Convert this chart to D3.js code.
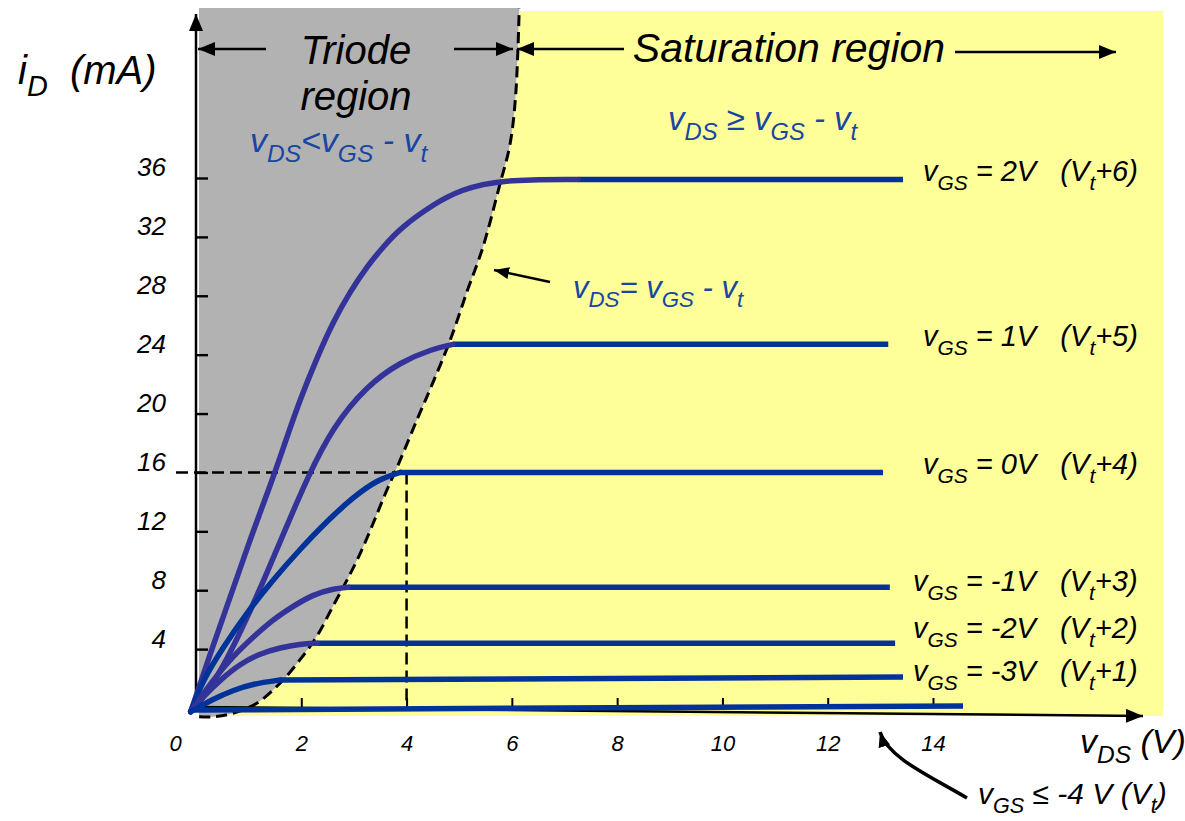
<!DOCTYPE html>
<html><head><meta charset="utf-8">
<script src="https://cdn.jsdelivr.net/npm/d3@7"></script>
<style>
body{margin:0;background:#fff;}
svg{display:block;}
text{font-family:"Liberation Sans",Arial,Helvetica,sans-serif;font-style:italic;}
</style>
</head><body>
<svg id="c" width="1185" height="821"></svg>
<script>
// ---------- data ----------
const yTicks = [4, 8, 12, 16, 20, 24, 28, 32, 36];
const xTicks = [0, 2, 4, 6, 8, 10, 12, 14];
const vgsLabels = ["2V", "1V", "0V", "-1V", "-2V", "-3V"];
const vtLabels = ["+6", "+5", "+4", "+3", "+2", "+1"];
// triode-region curves (vDS [V], iD [mA])
const curve2V = [[-0.1,-0.25],[0.02,1.0],[0.27,3.7],[0.59,6.9],[0.97,10.9],[1.44,15.4],[1.68,17.9],[1.98,21.0],[2.30,23.8],[2.60,26.2],[2.93,28.3],[3.25,30.0],[3.55,31.3],[3.88,32.6],[4.50,34.2],[5.02,35.2],[5.78,35.9],[7.26,35.9]];
const curve1V = [[-0.1,-0.25],[0.21,1.0],[0.59,3.3],[0.97,6.1],[1.35,9.2],[1.73,12.4],[2.11,15.6],[2.60,19.1],[3.25,21.9],[3.88,23.5],[4.50,24.4],[4.88,24.7]];
const curve0V = [[-0.1,-0.25],[0.13,1.9],[0.51,4.1],[0.97,6.5],[1.46,8.7],[1.98,10.8],[2.49,12.7],[2.98,14.3],[3.44,15.5],[3.88,16.0]];
const curveM1 = [[-0.1,-0.25],[0.32,1.9],[0.70,3.5],[1.08,4.8],[1.46,6.0],[1.84,6.9],[2.22,7.7],[2.60,8.1],[2.89,8.2]];
const curveM2 = [[-0.1,-0.25],[0.13,0.75],[0.46,1.9],[0.84,3.0],[1.22,3.7],[1.60,4.1],[1.98,4.35],[2.30,4.4]];
const curveM3 = [[-0.1,-0.25],[0.32,0.6],[0.70,1.2],[1.08,1.65],[1.60,1.9]];
const curveM4 = [[-0.1,-0.14],[14.57,0.14]];
const triodeCurves = [curve2V, curve1V, curve0V, curveM1, curveM2, curveM3];
const triodeIsPurple = [true, true, false, true, true, false];
// saturation segments: end of line (vDS) and level at end (iD)
const satEndX = [13.43, 13.15, 13.05, 13.18, 13.28, 13.43];
const satEndLevel = [35.9, 24.7, 16.0, 8.2, 4.4, 2.1];
// boundary vDS = vGS - vt (dashed)
const boundary = [[0.06,-0.6],[0.32,-0.6],[0.70,-0.36],[1.16,0.34],[1.60,1.7],[1.98,3.3],[2.30,4.9],[2.60,6.9],[2.87,8.7],[3.12,10.5],[3.36,12.5],[3.59,14.5],[3.85,16.6],[4.20,19.6],[4.50,22.1],[4.83,25.0],[5.15,28.3],[5.45,31.3],[5.76,35.4],[5.96,38.2],[6.07,41.5],[6.14,47.5]];
const guideLevel = 16, guideV = 4;

// ---------- scales ----------
const svg = d3.select("#c");
const x = d3.scaleLinear().domain([0, 14]).range([196, 933]);
const y = d3.scaleLinear().domain([0, 36]).range([708, 178]);

const PURPLE = "#333399", BLUE = "#003399", TXTBLUE = "#1846a3";

// ---------- defs ----------
const defs = svg.append("defs");
function marker(id, w, h) {
  defs.append("marker").attr("id", id).attr("viewBox", `0 0 ${w} ${h}`)
    .attr("refX", w).attr("refY", h / 2).attr("markerWidth", w).attr("markerHeight", h)
    .attr("markerUnits", "userSpaceOnUse").attr("orient", "auto")
    .append("path").attr("d", `M0,0L${w},${h/2}L0,${h}Z`).attr("fill", "#000");
}
marker("ah", 17, 14);
marker("ahs", 15, 12);

// ---------- background regions ----------
const smooth = d3.line().x(d => x(d[0])).y(d => y(d[1])).curve(d3.curveCatmullRom);
const bPath = smooth(boundary);
const leftX = 0.057, grayTop = 47.55, yellowRight = 18.37, yellowTop = 47.35, bottomY = -0.55;
svg.append("path").attr("fill", "#ffff99")
  .attr("d", bPath + `L${x(6.16)},${y(yellowTop)}L${x(yellowRight)},${y(yellowTop)}L${x(yellowRight)},${y(bottomY)}L${x(0.06)},${y(bottomY)}Z`);
svg.append("path").attr("fill", "#b2b2b2")
  .attr("d", bPath + `L${x(6.16)},${y(grayTop)}L${x(leftX)},${y(grayTop)}L${x(leftX)},${y(bottomY)}Z`);

// ---------- axes ----------
// y axis
const yAxis = svg.append("g").attr("transform", `translate(${x(0)},0)`)
  .call(d3.axisLeft(y).tickValues(yTicks).tickSize(22).tickPadding(8));
yAxis.select(".domain").remove();
yAxis.selectAll(".tick line").attr("x2", 12).attr("stroke", "#000").attr("stroke-width", 2.4);
yAxis.selectAll(".tick text").attr("font-size", 26).attr("dy", "-0.08em").attr("fill", "#000")
  .style("font-family", "'Liberation Sans',Arial,sans-serif").style("font-style", "italic");
svg.append("line").attr("x1", x(0)).attr("y1", y(0) + 4).attr("x2", x(0)).attr("y2", 14)
  .attr("stroke", "#000").attr("stroke-width", 2.5).attr("marker-end", "url(#ah)");

// x axis
const xAxis = svg.append("g").attr("transform", `translate(0,${y(0)})`)
  .call(d3.axisBottom(x).tickValues(xTicks).tickSizeInner(-10).tickSizeOuter(0).tickPadding(27));
xAxis.select(".domain").remove();
xAxis.selectAll(".tick line").attr("stroke", "#000").attr("stroke-width", 2).attr("opacity", d => d === 0 ? 0 : 1);
xAxis.selectAll(".tick text").attr("font-size", 22).attr("fill", "#000")
  .attr("dx", d => d === 0 ? -21 : 0)
  .style("font-family", "'Liberation Sans',Arial,sans-serif").style("font-style", "italic");
svg.append("line").attr("x1", x(0) - 6).attr("y1", y(0) - 1).attr("x2", 1143).attr("y2", y(0) + 8)
  .attr("stroke", "#000").attr("stroke-width", 2.5).attr("marker-end", "url(#ah)");

// ---------- dashed guides ----------
svg.append("path").attr("fill", "none").attr("stroke", "#000").attr("stroke-width", 2.5)
  .attr("stroke-dasharray", "12,6")
  .attr("d", `M${x(-0.38)},${y(guideLevel)}L${x(guideV + 0.1)},${y(guideLevel)}M${x(guideV)},${y(guideLevel)}L${x(guideV)},${y(0) - 2}`);
svg.append("path").attr("fill", "none").attr("stroke", "#000").attr("stroke-width", 3)
  .attr("stroke-dasharray", "11,6").attr("d", bPath);

// ---------- curves ----------
const line = d3.line().x(d => x(d[0])).y(d => y(d[1])).curve(d3.curveBasis);
triodeCurves.forEach((c, i) => {
  const last = c[c.length - 1];
  svg.append("path").attr("fill", "none").attr("stroke", BLUE).attr("stroke-width", 5.5)
    .attr("d", d3.line().x(d => x(d[0])).y(d => y(d[1]))([last, [satEndX[i], satEndLevel[i]]]));
});
svg.append("path").attr("fill", "none").attr("stroke", BLUE).attr("stroke-width", 5.5)
  .attr("d", d3.line().x(d => x(d[0])).y(d => y(d[1]))(curveM4));
triodeCurves.forEach((c, i) => {
  svg.append("path").attr("fill", "none").attr("stroke", triodeIsPurple[i] ? PURPLE : BLUE)
    .attr("stroke-width", 5.5).attr("stroke-linecap", "round").attr("d", line(c));
});

// ---------- text helper ----------
function rich(px, py, parts, size, color, anchor) {
  const t = svg.append("text").attr("x", px).attr("y", py).attr("font-size", size)
    .attr("fill", color).attr("text-anchor", anchor || "start").style("white-space", "pre");
  let inSub = false;
  const sh = size * 0.3;
  parts.forEach(p => {
    const s = typeof p === "string" ? p : p[0];
    const isSub = typeof p !== "string";
    const ts = t.append("tspan").text(s);
    if (isSub) { ts.attr("font-size", size * 0.72); if (!inSub) ts.attr("dy", sh); }
    else if (inSub) ts.attr("dy", -sh);
    inSub = isSub;
  });
  return t;
}

// axis titles
rich(18, 84, ["i", ["D"], "  (mA)"], 40, "#000");
rich(1080, 753, ["v", ["DS"], " (V)"], 34, "#000");

// region titles
svg.append("text").attr("x", 356).attr("y", 64).attr("font-size", 40).attr("text-anchor", "middle").text("Triode");
svg.append("text").attr("x", 356).attr("y", 110).attr("font-size", 40).attr("text-anchor", "middle").text("region");
svg.append("text").attr("x", 789).attr("y", 62).attr("font-size", 41).attr("text-anchor", "middle").text("Saturation region");

// region arrows
function arrow(x1, y1, x2, y2, m) {
  svg.append("line").attr("x1", x1).attr("y1", y1).attr("x2", x2).attr("y2", y2)
    .attr("stroke", "#000").attr("stroke-width", 2.5).attr("marker-end", `url(#${m || "ah"})`);
}
arrow(266, 49, 198, 49);
arrow(454, 49, 513, 49);
arrow(624, 49, 517, 49);
arrow(955, 52, 1116, 52);

// condition texts
rich(250, 152, ["v", ["DS"], "<v", ["GS"], " - v", ["t"]], 34, TXTBLUE);
rich(668, 130, ["v", ["DS"], " ≥ v", ["GS"], " - v", ["t"]], 33, TXTBLUE);
rich(573, 298, ["v", ["DS"], "= v", ["GS"], " - v", ["t"]], 31, TXTBLUE);
arrow(550, 282, 494, 270, "ahs");

// curve labels
const labelX = [923, 923, 923, 913, 913, 913];
const labelDy = [2, 2, 2, 4, -5, 4];
vgsLabels.forEach((v, i) => {
  const lvl = satEndLevel[i];
  rich(labelX[i], y(lvl) + labelDy[i], ["v", ["GS"], " = " + v + "   (V", ["t"], vtLabels[i] + ")"], 29, "#000");
});

// cutoff label + curved arrow
rich(978, 804, ["v", ["GS"], " ≤ -4 V (V", ["t"], ")"], 30, "#000");
svg.append("path").attr("fill", "none").attr("stroke", "#000").attr("stroke-width", 3.5)
  .attr("d", "M967,798 C930,776 888,758 880,732").attr("marker-end", "url(#ahs)");
</script>
</body></html>
